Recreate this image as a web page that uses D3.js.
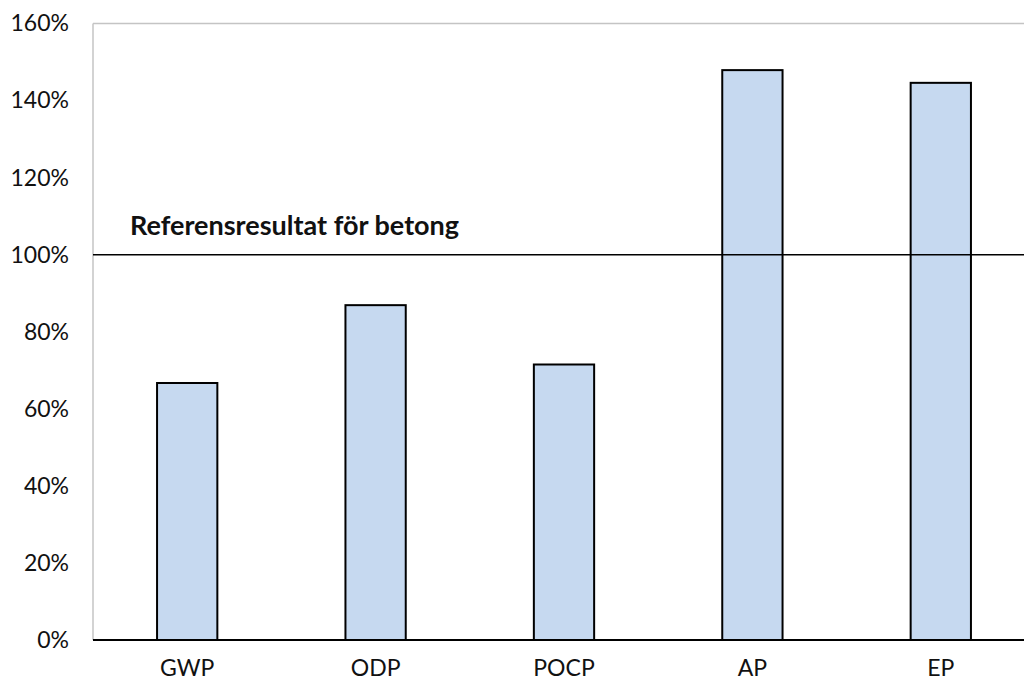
<!DOCTYPE html>
<html>
<head>
<meta charset="utf-8">
<script src="https://cdn.jsdelivr.net/npm/d3@7"></script>
<style>
  html, body { margin: 0; padding: 0; background: #fff; overflow: hidden; }
  svg { display: block; font-family: Lato, "Noto Sans", sans-serif; }
</style>
</head>
<body>
<svg id="chart" width="1024" height="682"></svg>
<script>
// Environmental impact categories relative to the concrete reference (100%)
const categories = ["GWP", "ODP", "POCP", "AP", "EP"];
const values = [66.7, 86.9, 71.5, 147.9, 144.6];
const yTicks = [0, 20, 40, 60, 80, 100, 120, 140, 160];
const referenceValue = 100;
const referenceLabel = "Referensresultat för betong";

const margin = { left: 93, top: 23.5, right: -11, bottom: 42 };
const W = 1024, H = 682;
const svg = d3.select("#chart");

const x = d3.scaleBand()
  .domain(categories)
  .range([margin.left, W - margin.right])
  .paddingInner(0.68)
  .paddingOuter(0.34);

const y = d3.scaleLinear()
  .domain([0, 160])
  .range([H - margin.bottom, margin.top]);

// Plot frame (light grey top and left edges)
svg.append("line")
  .attr("x1", margin.left).attr("x2", W - margin.right)
  .attr("y1", y(160)).attr("y2", y(160))
  .attr("stroke", "#c4c4c4").attr("stroke-width", 1.5);
svg.append("line")
  .attr("x1", margin.left).attr("x2", margin.left)
  .attr("y1", y(160)).attr("y2", y(0))
  .attr("stroke", "#c4c4c4").attr("stroke-width", 1.5);

// Y axis labels
const yAxis = d3.axisLeft(y)
  .tickValues(yTicks)
  .tickSize(0)
  .tickPadding(24)
  .tickFormat(d => d + "%");
const gy = svg.append("g")
  .attr("transform", `translate(${margin.left},0)`)
  .call(yAxis);
gy.select(".domain").remove();
gy.selectAll("text")
  .attr("font-size", 23)
  .attr("fill", "#111")
  .attr("font-family", "Lato, sans-serif");

// Bars
svg.append("g")
  .selectAll("rect")
  .data(values)
  .join("rect")
  .attr("x", (d, i) => x(categories[i]))
  .attr("width", x.bandwidth())
  .attr("y", d => y(d))
  .attr("height", d => y(0) - y(d))
  .attr("fill", "#c6d9f0")
  .attr("stroke", "#000")
  .attr("stroke-width", 2);

// X axis
const xAxis = d3.axisBottom(x).tickSize(0);
const gx = svg.append("g")
  .attr("transform", `translate(0,${y(0)})`)
  .call(xAxis);
gx.select(".domain").remove();
gx.selectAll("text")
  .attr("y", 36)
  .attr("dy", 0)
  .attr("font-size", 23)
  .attr("fill", "#111")
  .attr("font-family", "Lato, sans-serif");

svg.append("line")
  .attr("x1", margin.left).attr("x2", W - margin.right)
  .attr("y1", y(0)).attr("y2", y(0))
  .attr("stroke", "#000").attr("stroke-width", 2);

// Reference line at 100%
svg.append("line")
  .attr("x1", margin.left).attr("x2", W - margin.right)
  .attr("y1", y(referenceValue)).attr("y2", y(referenceValue))
  .attr("stroke", "#000").attr("stroke-width", 1.5);

svg.append("text")
  .attr("x", 130)
  .attr("y", y(referenceValue) - 20)
  .attr("font-size", 27)
  .attr("font-weight", "bold")
  .attr("fill", "#111")
  .text(referenceLabel);
</script>
</body>
</html>
